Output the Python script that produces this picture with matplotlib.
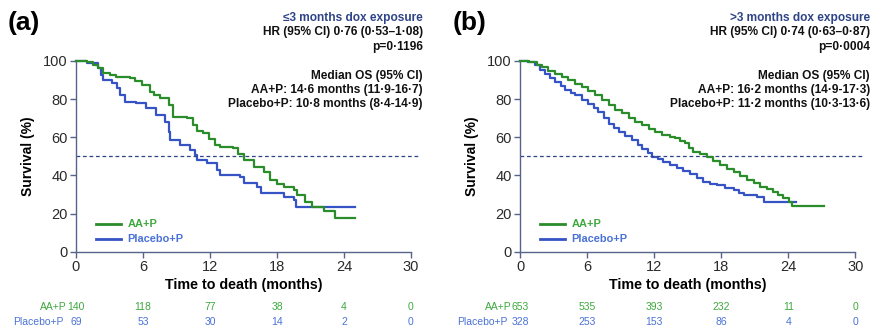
import matplotlib
matplotlib.use("Agg")
import matplotlib.pyplot as plt
import numpy as np

plt.rcParams["font.family"] = ["Liberation Sans", "DejaVu Sans"]

# ---- data ----
a_aap_t = [0, 1.0, 1.5, 2.0, 2.45, 3.0, 3.6, 4.8, 5.3, 5.9, 6.6, 7.0, 7.5, 8.3, 8.7, 9.9, 10.5, 10.8,
           11.4, 11.9, 12.45, 12.9, 14.1, 14.5, 15.0, 15.9, 16.8, 17.4, 18.0, 18.6, 19.5, 19.8, 20.5,
           21.1, 22.2, 23.2, 25.0]
a_aap_s = [100, 99.3, 98, 96.2, 93.5, 92.5, 91.8, 91.2, 89.5, 87.4, 83.9, 82, 80.4, 76.9, 70.8, 70,
           66.4, 63.5, 62.1, 59, 56, 55, 54.2, 51, 48.1, 44.6, 42, 37.6, 35.5, 34.1, 32.4, 29.7, 26.2,
           23.6, 21.3, 17.5, 17.5]
a_pbo_t = [0, 1.0, 2.0, 2.2, 2.45, 3.2, 3.65, 3.9, 4.4, 5.4, 6.3, 7.2, 8.0, 8.3, 8.4, 9.3, 10.2, 10.7,
           10.8, 11.7, 12.6, 12.9, 14.7, 15.0, 16.2, 16.6, 18.6, 19.5, 19.7, 25.0]
a_pbo_s = [100, 98.8, 96.2, 92.7, 90, 88.3, 85.7, 82.2, 78.7, 77.8, 75.2, 71.7, 68.2, 62.9, 58.6, 56,
           53.3, 50.7, 48.1, 46.4, 42.8, 40.2, 39.3, 35.9, 34.1, 30.6, 28.8, 27.1, 23.3, 23.3]

b_aap_t = [0, 0.8, 1.5, 1.9, 2.5, 3.1, 3.7, 4.3, 4.9, 5.5, 6.1, 6.7, 7.3, 7.9, 8.5, 9.1, 9.7, 10.3,
           10.9, 11.5, 12.1, 12.7, 13.4, 13.85, 14.3, 14.75, 15.1, 15.5, 16.1, 16.7, 17.3, 17.9, 18.5,
           19.1, 19.7, 20.3, 20.9, 21.5, 22.1, 22.65, 23.1, 23.5, 24.1, 24.3, 27.2]
b_aap_s = [100, 99.5, 98, 96.9, 95, 93.4, 91.5, 89.9, 88, 86.4, 84.2, 82, 79.5, 76.8, 74.5, 72.5, 70.2,
           68.1, 66.3, 64.6, 62.8, 61.1, 60.2, 59.4, 58, 56.8, 54.6, 52.4, 51, 49.7, 47.6, 45.4, 43.6,
           41.9, 39.7, 37.5, 35.8, 34, 32.7, 31.4, 29.6, 28, 26.2, 23.9, 23.9]
b_pbo_t = [0, 0.7, 1.3, 1.8, 2.2, 2.7, 3.1, 3.6, 4.0, 4.5, 4.9, 5.5, 6.1, 6.6, 7.0, 7.5, 7.9, 8.4, 8.8,
           9.4, 10.0, 10.5, 10.9, 11.4, 11.8, 12.3, 12.8, 13.4, 14.0, 14.6, 15.2, 15.8, 16.4, 17.0,
           17.6, 18.3, 19.1, 19.6, 20.0, 21.2, 21.8, 24.7]
b_pbo_s = [100, 99.3, 97.7, 95.5, 93.4, 91.2, 89, 86.8, 84.7, 83.2, 82, 79.8, 77.7, 75.5, 73.3, 70.2,
           67.2, 65, 62.8, 60.6, 58.5, 56.2, 54.1, 51.9, 49.7, 48.4, 47.1, 45.4, 43.7, 42.3, 41, 38.8,
           36.6, 35.7, 34.9, 33.6, 32.3, 31, 29.7, 28.8, 26.2, 26.2]

risk_times = [0, 6, 12, 18, 24, 30]
a_risk_aap = [140, 118, 77, 38, 4, 0]
a_risk_pbo = [69, 53, 30, 14, 2, 0]
b_risk_aap = [653, 535, 393, 232, 11, 0]
b_risk_pbo = [328, 253, 153, 86, 4, 0]

a_header = ["≤3 months dox exposure", "HR (95% CI) 0·76 (0·53–1·08)", "p=0·1196"]
a_median = ["Median OS (95% CI)", "AA+P: 14·6 months (11·9-16·7)", "Placebo+P: 10·8 months (8·4-14·9)"]
b_header = [">3 months dox exposure", "HR (95% CI) 0·74 (0·63–0·87)", "p=0·0004"]
b_median = ["Median OS (95% CI)", "AA+P: 16·2 months (14·9-17·3)", "Placebo+P: 11·2 months (10·3-13·6)"]

GREEN = "#2a8c2a"
BLUE = "#3553c4"
GREEN_TXT = "#3fa83f"
BLUE_TXT = "#4a72d6"
SPINE = "#56648a"
NAVY = "#2f4487"

W, H = 874, 329
fig = plt.figure(figsize=(W / 100, H / 100), dpi=100)


def px(x, y):
    return x / W, 1 - y / H


def panel(left, letter, aap_t, aap_s, pbo_t, pbo_s, risk_aap, risk_pbo, header, median, right_edge):
    ax = fig.add_axes([left / W, (H - 251.7) / H, 335 / W, 190.7 / H])
    ax.step(aap_t, aap_s, where="post", color=GREEN, lw=1.6, clip_on=False, zorder=3)
    ax.step(pbo_t, pbo_s, where="post", color=BLUE, lw=1.6, clip_on=False, zorder=2)
    ax.plot([0, 30.8], [50, 50], ls=(0, (3, 2.2)), color=NAVY, lw=0.9, clip_on=False)
    ax.set_xlim(0, 30)
    ax.set_ylim(0, 100)
    ax.set_xticks(risk_times)
    ax.set_yticks([0, 20, 40, 60, 80, 100])
    for s in ["top", "right"]:
        ax.spines[s].set_visible(False)
    for s in ["left", "bottom"]:
        ax.spines[s].set_color(SPINE)
        ax.spines[s].set_linewidth(1.0)
    ax.tick_params(colors=SPINE, labelcolor="#2a2a2a", labelsize=10.5, length=4, width=1.0, pad=2)
    ax.set_ylabel("Survival (%)", fontsize=10, fontweight="bold", labelpad=6)
    ax.set_xlabel("Time to death (months)", fontsize=10.3, fontweight="bold", labelpad=3)

    # legend
    ax.plot([1.8, 4.0], [14.3, 14.3], color=GREEN, lw=2, transform=ax.transData)
    ax.plot([1.8, 4.0], [6.7, 6.7], color=BLUE, lw=2, transform=ax.transData)
    ax.text(4.6, 14.3, "AA+P", color=GREEN_TXT, fontsize=7.9, fontweight="bold", va="center")
    ax.text(4.6, 6.7, "Placebo+P", color=BLUE_TXT, fontsize=7.9, fontweight="bold", va="center")

    # letter
    fig.text(*px(left - 68, 23), letter, fontsize=19, fontweight="bold", va="center", ha="left")

    # annotations
    ys = [17.5, 32, 47]
    for i, (txt, y) in enumerate(zip(header, ys)):
        fig.text(*px(right_edge, y), txt, fontsize=8.6, fontweight="bold", ha="right", va="center",
                 color=NAVY if i == 0 else "#111111")
    for txt, y in zip(median, [76.5, 90.5, 104.5]):
        fig.text(*px(right_edge, y), txt, fontsize=8.6, fontweight="bold", ha="right", va="center",
                 color="#111111")

    # numbers at risk
    for t, n1, n2 in zip(risk_times, risk_aap, risk_pbo):
        xx = left + t / 30 * 335
        fig.text(*px(xx, 306.5), str(n1), fontsize=7.5, ha="center", va="center", color=GREEN_TXT)
        fig.text(*px(xx, 322.3), str(n2), fontsize=7.5, ha="center", va="center", color=BLUE_TXT)
    fig.text(*px(left - 9, 306.5), "AA+P", fontsize=7.5, ha="right", va="center", color=GREEN_TXT)
    fig.text(*px(left - 13, 322.3), "Placebo+P", fontsize=7.5, ha="right", va="center", color=BLUE_TXT)
    return ax


panel(76, "(a)", a_aap_t, a_aap_s, a_pbo_t, a_pbo_s, a_risk_aap, a_risk_pbo, a_header, a_median, 423)
panel(520.3, "(b)", b_aap_t, b_aap_s, b_pbo_t, b_pbo_s, b_risk_aap, b_risk_pbo, b_header, b_median, 870)

fig.savefig("out.png", dpi=100)
